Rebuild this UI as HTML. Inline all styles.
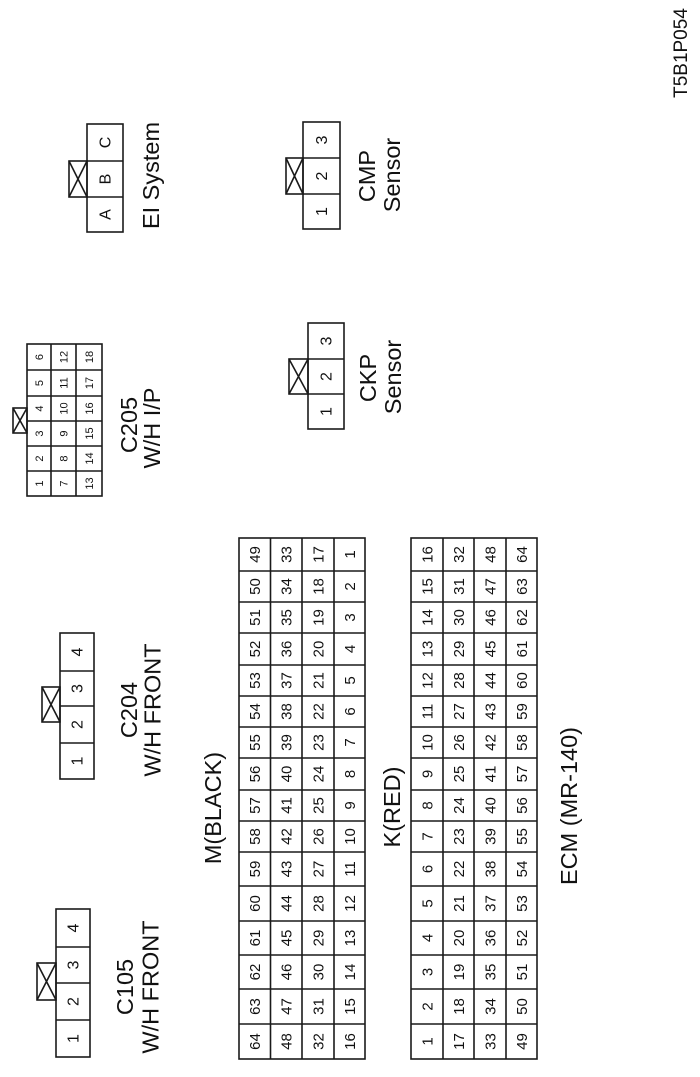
<!DOCTYPE html>
<html><head><meta charset="utf-8"><style>
html,body{margin:0;padding:0;background:#fff;}
svg{display:block}
.d{font-family:"Liberation Sans",sans-serif;font-size:15px;text-anchor:middle;fill:#111}
.s{font-family:"Liberation Sans",sans-serif;font-size:16px;text-anchor:middle;fill:#111}
.t{font-family:"Liberation Sans",sans-serif;font-size:11px;text-anchor:middle;fill:#111}
.l{font-family:"Liberation Sans",sans-serif;font-size:23.5px;text-anchor:middle;fill:#111}
.ln{fill:none;stroke:#1a1a1a;stroke-width:1.6}
</style></head><body>
<svg width="700" height="1077" viewBox="0 0 700 1077" xmlns="http://www.w3.org/2000/svg">
<rect width="700" height="1077" fill="#fff"/>
<g transform="translate(0,1077) rotate(-90)">

<!-- C105 -->
<rect class="ln" x="20" y="56" width="148" height="34"/>
<path class="ln" d="M57 56V90M94 56V90M130 56V90"/>
<rect class="ln" x="77" y="37" width="37" height="19"/>
<path class="ln" d="M77 37L114 56M77 56L114 37"/>
<text class="s" x="38.5" y="78.7">1</text><text class="s" x="75.5" y="78.7">2</text><text class="s" x="112" y="78.7">3</text><text class="s" x="149" y="78.7">4</text>
<text class="l" x="90" y="133">C105</text>
<text class="l" x="90" y="158.5">W/H FRONT</text>

<!-- C204 -->
<rect class="ln" x="298" y="60" width="146" height="34"/>
<path class="ln" d="M334 60V94M371 60V94M406 60V94"/>
<rect class="ln" x="355" y="42" width="35" height="18"/>
<path class="ln" d="M355 42L390 60M355 60L390 42"/>
<text class="s" x="316" y="82.7">1</text><text class="s" x="352.5" y="82.7">2</text><text class="s" x="388.5" y="82.7">3</text><text class="s" x="425" y="82.7">4</text>
<text class="l" x="367" y="137">C204</text>
<text class="l" x="367" y="160.5">W/H FRONT</text>

<!-- M grid -->
<rect class="ln" x="18" y="239" width="521" height="126"/>
<path class="ln" d="M18 270.5H539M18 302H539M18 334H539M53 239V365M88 239V365M122 239V365M156 239V365M191 239V365M225 239V365M256 239V365M287 239V365M319 239V365M350 239V365M381 239V365M412 239V365M444 239V365M475 239V365M506 239V365"/>
<text class="d" x="35.5" y="260.2">64</text><text class="d" x="70.5" y="260.2">63</text><text class="d" x="105" y="260.2">62</text><text class="d" x="139" y="260.2">61</text><text class="d" x="173.5" y="260.2">60</text><text class="d" x="208" y="260.2">59</text><text class="d" x="240.5" y="260.2">58</text><text class="d" x="271.5" y="260.2">57</text><text class="d" x="303" y="260.2">56</text><text class="d" x="334.5" y="260.2">55</text><text class="d" x="365.5" y="260.2">54</text><text class="d" x="396.5" y="260.2">53</text><text class="d" x="428" y="260.2">52</text><text class="d" x="459.5" y="260.2">51</text><text class="d" x="490.5" y="260.2">50</text><text class="d" x="522.5" y="260.2">49</text>
<text class="d" x="35.5" y="291.6">48</text><text class="d" x="70.5" y="291.6">47</text><text class="d" x="105" y="291.6">46</text><text class="d" x="139" y="291.6">45</text><text class="d" x="173.5" y="291.6">44</text><text class="d" x="208" y="291.6">43</text><text class="d" x="240.5" y="291.6">42</text><text class="d" x="271.5" y="291.6">41</text><text class="d" x="303" y="291.6">40</text><text class="d" x="334.5" y="291.6">39</text><text class="d" x="365.5" y="291.6">38</text><text class="d" x="396.5" y="291.6">37</text><text class="d" x="428" y="291.6">36</text><text class="d" x="459.5" y="291.6">35</text><text class="d" x="490.5" y="291.6">34</text><text class="d" x="522.5" y="291.6">33</text>
<text class="d" x="35.5" y="323.4">32</text><text class="d" x="70.5" y="323.4">31</text><text class="d" x="105" y="323.4">30</text><text class="d" x="139" y="323.4">29</text><text class="d" x="173.5" y="323.4">28</text><text class="d" x="208" y="323.4">27</text><text class="d" x="240.5" y="323.4">26</text><text class="d" x="271.5" y="323.4">25</text><text class="d" x="303" y="323.4">24</text><text class="d" x="334.5" y="323.4">23</text><text class="d" x="365.5" y="323.4">22</text><text class="d" x="396.5" y="323.4">21</text><text class="d" x="428" y="323.4">20</text><text class="d" x="459.5" y="323.4">19</text><text class="d" x="490.5" y="323.4">18</text><text class="d" x="522.5" y="323.4">17</text>
<text class="d" x="35.5" y="355">16</text><text class="d" x="70.5" y="355">15</text><text class="d" x="105" y="355">14</text><text class="d" x="139" y="355">13</text><text class="d" x="173.5" y="355">12</text><text class="d" x="208" y="355">11</text><text class="d" x="240.5" y="355">10</text><text class="d" x="271.5" y="355">9</text><text class="d" x="303" y="355">8</text><text class="d" x="334.5" y="355">7</text><text class="d" x="365.5" y="355">6</text><text class="d" x="396.5" y="355">5</text><text class="d" x="428" y="355">4</text><text class="d" x="459.5" y="355">3</text><text class="d" x="490.5" y="355">2</text><text class="d" x="522.5" y="355">1</text>
<text class="l" x="269" y="221">M(BLACK)</text>

<!-- K grid -->
<rect class="ln" x="18" y="411" width="521" height="126"/>
<path class="ln" d="M18 443H539M18 474H539M18 506H539M53 411V537M88 411V537M122 411V537M156 411V537M191 411V537M225 411V537M256 411V537M287 411V537M319 411V537M350 411V537M381 411V537M412 411V537M444 411V537M475 411V537M506 411V537"/>
<text class="d" x="35.5" y="432.4">1</text><text class="d" x="70.5" y="432.4">2</text><text class="d" x="105" y="432.4">3</text><text class="d" x="139" y="432.4">4</text><text class="d" x="173.5" y="432.4">5</text><text class="d" x="208" y="432.4">6</text><text class="d" x="240.5" y="432.4">7</text><text class="d" x="271.5" y="432.4">8</text><text class="d" x="303" y="432.4">9</text><text class="d" x="334.5" y="432.4">10</text><text class="d" x="365.5" y="432.4">11</text><text class="d" x="396.5" y="432.4">12</text><text class="d" x="428" y="432.4">13</text><text class="d" x="459.5" y="432.4">14</text><text class="d" x="490.5" y="432.4">15</text><text class="d" x="522.5" y="432.4">16</text>
<text class="d" x="35.5" y="464">17</text><text class="d" x="70.5" y="464">18</text><text class="d" x="105" y="464">19</text><text class="d" x="139" y="464">20</text><text class="d" x="173.5" y="464">21</text><text class="d" x="208" y="464">22</text><text class="d" x="240.5" y="464">23</text><text class="d" x="271.5" y="464">24</text><text class="d" x="303" y="464">25</text><text class="d" x="334.5" y="464">26</text><text class="d" x="365.5" y="464">27</text><text class="d" x="396.5" y="464">28</text><text class="d" x="428" y="464">29</text><text class="d" x="459.5" y="464">30</text><text class="d" x="490.5" y="464">31</text><text class="d" x="522.5" y="464">32</text>
<text class="d" x="35.5" y="495.4">33</text><text class="d" x="70.5" y="495.4">34</text><text class="d" x="105" y="495.4">35</text><text class="d" x="139" y="495.4">36</text><text class="d" x="173.5" y="495.4">37</text><text class="d" x="208" y="495.4">38</text><text class="d" x="240.5" y="495.4">39</text><text class="d" x="271.5" y="495.4">40</text><text class="d" x="303" y="495.4">41</text><text class="d" x="334.5" y="495.4">42</text><text class="d" x="365.5" y="495.4">43</text><text class="d" x="396.5" y="495.4">44</text><text class="d" x="428" y="495.4">45</text><text class="d" x="459.5" y="495.4">46</text><text class="d" x="490.5" y="495.4">47</text><text class="d" x="522.5" y="495.4">48</text>
<text class="d" x="35.5" y="527">49</text><text class="d" x="70.5" y="527">50</text><text class="d" x="105" y="527">51</text><text class="d" x="139" y="527">52</text><text class="d" x="173.5" y="527">53</text><text class="d" x="208" y="527">54</text><text class="d" x="240.5" y="527">55</text><text class="d" x="271.5" y="527">56</text><text class="d" x="303" y="527">57</text><text class="d" x="334.5" y="527">58</text><text class="d" x="365.5" y="527">59</text><text class="d" x="396.5" y="527">60</text><text class="d" x="428" y="527">61</text><text class="d" x="459.5" y="527">62</text><text class="d" x="490.5" y="527">63</text><text class="d" x="522.5" y="527">64</text>
<text class="l" x="270" y="400">K(RED)</text>
<text class="l" x="271" y="577">ECM (MR-140)</text>

<!-- C205 -->
<rect class="ln" x="581" y="27" width="152" height="75"/>
<path class="ln" d="M581 51H733M581 76H733M606 27V102M631 27V102M656 27V102M681 27V102M707 27V102"/>
<rect class="ln" x="644" y="13" width="25" height="14"/>
<path class="ln" d="M644 13L669 27M644 27L669 13"/>
<text class="t" x="593.5" y="42.9">1</text><text class="t" x="618.5" y="42.9">2</text><text class="t" x="643.5" y="42.9">3</text><text class="t" x="668.5" y="42.9">4</text><text class="t" x="694" y="42.9">5</text><text class="t" x="720" y="42.9">6</text>
<text class="t" x="593.5" y="67.4">7</text><text class="t" x="618.5" y="67.4">8</text><text class="t" x="643.5" y="67.4">9</text><text class="t" x="668.5" y="67.4">10</text><text class="t" x="694" y="67.4">11</text><text class="t" x="720" y="67.4">12</text>
<text class="t" x="593.5" y="92.9">13</text><text class="t" x="618.5" y="92.9">14</text><text class="t" x="643.5" y="92.9">15</text><text class="t" x="668.5" y="92.9">16</text><text class="t" x="694" y="92.9">17</text><text class="t" x="720" y="92.9">18</text>
<text class="l" x="652" y="137">C205</text>
<text class="l" x="649" y="160">W/H I/P</text>

<!-- CKP -->
<rect class="ln" x="648" y="308" width="106" height="36"/>
<path class="ln" d="M683 308V344M718 308V344"/>
<rect class="ln" x="683" y="289" width="35" height="19"/>
<path class="ln" d="M683 289L718 308M683 308L718 289"/>
<text class="s" x="665.5" y="331.7">1</text><text class="s" x="700.5" y="331.7">2</text><text class="s" x="736" y="331.7">3</text>
<text class="l" x="699" y="376">CKP</text>
<text class="l" x="700" y="401">Sensor</text>

<!-- EI System -->
<rect class="ln" x="845" y="87" width="108" height="36"/>
<path class="ln" d="M880 87V123M916 87V123"/>
<rect class="ln" x="880" y="69" width="36" height="18"/>
<path class="ln" d="M880 69L916 87M880 87L916 69"/>
<text class="s" x="862.5" y="110.7">A</text><text class="s" x="898" y="110.7">B</text><text class="s" x="934.5" y="110.7">C</text>
<text class="l" x="901.5" y="159">EI System</text>

<!-- CMP -->
<rect class="ln" x="848" y="303" width="107" height="37"/>
<path class="ln" d="M883 303V340M919 303V340"/>
<rect class="ln" x="883" y="286" width="36" height="17"/>
<path class="ln" d="M883 286L919 303M883 303L919 286"/>
<text class="s" x="865.5" y="327.2">1</text><text class="s" x="901" y="327.2">2</text><text class="s" x="937" y="327.2">3</text>
<text class="l" x="901" y="375">CMP</text>
<text class="l" x="902" y="400">Sensor</text>

<!-- Figure code -->
<text x="1024" y="687" style="font-family:'Liberation Sans',sans-serif;font-size:19px;text-anchor:middle;fill:#111">T5B1P054</text>
</g>
</svg>
</body></html>
